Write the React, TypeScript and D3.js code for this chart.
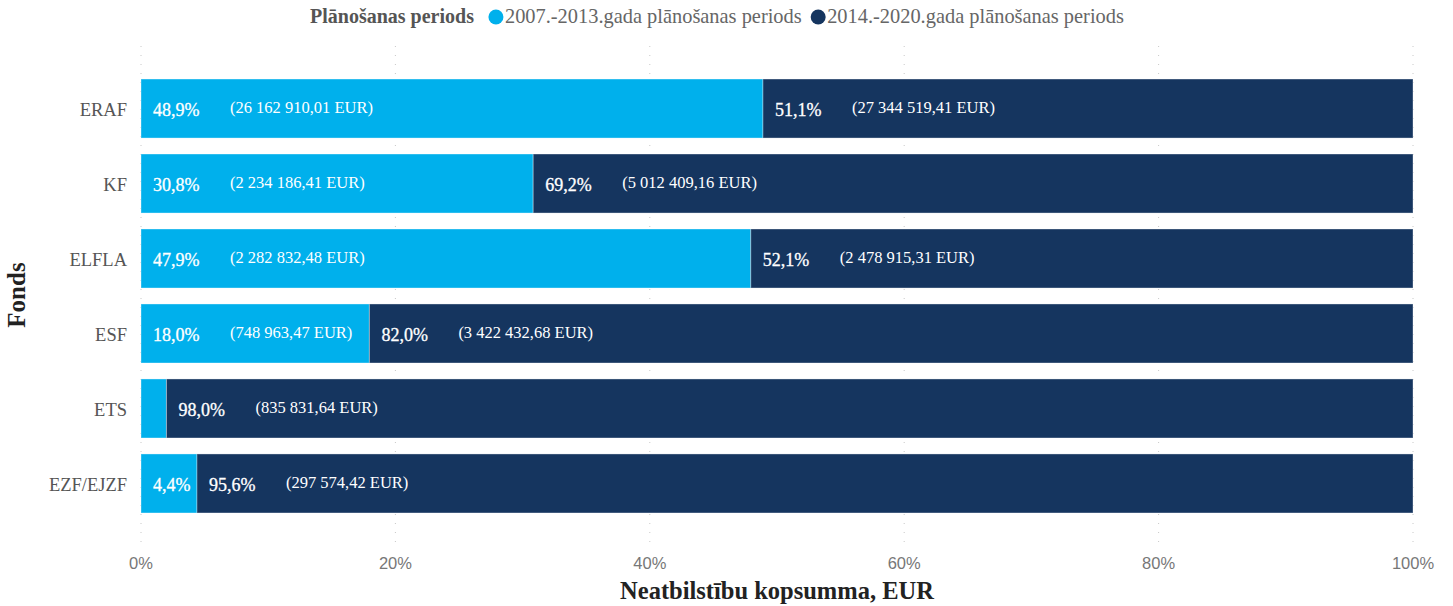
import React, { useEffect, useRef } from 'react';
import * as d3 from 'd3';

// Fondi un summas (EUR) pa plānošanas periodiem
const funds = ['ERAF', 'KF', 'ELFLA', 'ESF', 'ETS', 'EZF/EJZF'];
const period1 = [26162910.01, 2234186.41, 2282832.48, 748963.47, 17058, 13696];
const period2 = [27344519.41, 5012409.16, 2478915.31, 3422432.68, 835831.64, 297574.42];
const showP1Eur = [true, true, true, true, false, false];
const showP1Pct = [true, true, true, true, false, true];
const seriesNames = ['2007.-2013.gada plānošanas periods', '2014.-2020.gada plānošanas periods'];
const xTicks = [0, 0.2, 0.4, 0.6, 0.8, 1];

const COLORS = ['#00B0EC', '#15355F'];
const W = 1453;
const H = 606;

const fmtEur = (v: number) => {
  const [i, d] = v.toFixed(2).split('.');
  return `(${i.replace(/\B(?=(\d{3})+(?!\d))/g, ' ')},${d} EUR)`;
};
const fmtPct = (v: number) => (v * 100).toFixed(1).replace('.', ',') + '%';

export default function App() {
  const ref = useRef<SVGSVGElement>(null);

  useEffect(() => {
    const svg = d3.select(ref.current);
    svg.selectAll('*').remove();
    const margin = { top: 44, right: 40, bottom: 61, left: 141 };
    const innerW = W - margin.left - margin.right;

    const x = d3.scaleLinear().domain([0, 1]).range([margin.left, margin.left + innerW]);
    const y = d3.scaleBand().domain(funds).range([71, 521]).paddingInner(0.213).paddingOuter(0.107);

    const serif = "'Liberation Serif', 'Times New Roman', serif";

    // Grid
    svg.append('g').selectAll('line').data(xTicks).join('line')
      .attr('x1', d => x(d)).attr('x2', d => x(d))
      .attr('y1', margin.top + 2).attr('y2', 546)
      .attr('stroke', '#c8c8c8').attr('stroke-width', 1).attr('stroke-dasharray', '1 8');

    const rows = funds.map((f, i) => {
      const total = period1[i] + period2[i];
      return { f, i, p1: period1[i] / total, p2: period2[i] / total };
    });

    const g = svg.append('g');
    rows.forEach(r => {
      const by = y(r.f)!;
      const bh = y.bandwidth();
      const cy = by + bh / 2;
      const segs = [
        { x0: 0, x1: r.p1, c: COLORS[0], pct: r.p1, eur: period1[r.i], sp: showP1Pct[r.i], se: showP1Eur[r.i] },
        { x0: r.p1, x1: 1, c: COLORS[1], pct: r.p2, eur: period2[r.i], sp: true, se: true },
      ];
      segs.forEach(s => {
        g.append('rect')
          .attr('x', x(s.x0)).attr('y', by)
          .attr('width', x(s.x1) - x(s.x0)).attr('height', bh)
          .attr('fill', s.c).attr('stroke', 'rgba(255,255,255,0.35)').attr('stroke-width', 1);
        if (s.sp) {
          g.append('text').attr('x', x(s.x0) + 12).attr('y', cy + 1).attr('dy', '0.35em')
            .attr('fill', '#fff').attr('font-family', serif).attr('font-size', 18)
            .attr('stroke', '#fff').attr('stroke-width', 0.3)
            .text(fmtPct(s.pct));
        }
        if (s.se) {
          g.append('text').attr('x', x(s.x0) + 89).attr('y', cy - 1).attr('dy', '0.35em')
            .attr('fill', '#fff').attr('font-family', serif).attr('font-size', 16.5)
            .text(fmtEur(s.eur));
        }
      });
      svg.append('text').attr('x', 127).attr('y', cy + 1).attr('dy', '0.35em')
        .attr('text-anchor', 'end').attr('fill', '#555').attr('font-family', serif).attr('font-size', 18.5)
        .text(r.f);
    });

    // x ticks
    svg.append('g').selectAll('text').data(xTicks).join('text')
      .attr('x', d => x(d)).attr('y', 569)
      .attr('text-anchor', 'middle').attr('fill', '#777')
      .attr('font-family', "'Liberation Sans', 'DejaVu Sans', sans-serif").attr('font-size', 16.5)
      .text(d => `${Math.round(d * 100)}%`);

    // Axis titles
    svg.append('text').attr('x', x(0.5)).attr('y', 599).attr('text-anchor', 'middle')
      .attr('fill', '#222').attr('font-family', serif).attr('font-size', 24.5).attr('font-weight', 'bold')
      .text('Neatbilstību kopsumma, EUR');
    svg.append('text').attr('transform', `translate(25,${295}) rotate(-90)`).attr('text-anchor', 'middle')
      .attr('fill', '#222').attr('font-family', serif).attr('font-size', 25).attr('font-weight', 'bold')
      .text('Fonds');

    // Legend
    const lg = svg.append('g').attr('font-family', serif).attr('font-size', 20.4);
    const title = lg.append('text').attr('x', 310).attr('y', 23).attr('fill', '#555').attr('font-weight', 'bold')
      .attr('font-size', 20).text('Plānošanas periods');
    let lx = 310 + (title.node() as SVGTextElement).getComputedTextLength() + 22;
    seriesNames.forEach((n, i) => {
      lg.append('circle').attr('cx', lx).attr('cy', 17).attr('r', 7.5).attr('fill', COLORS[i]);
      const t = lg.append('text').attr('x', lx + 9).attr('y', 23).attr('fill', '#666').text(n);
      const w = (t.node() as SVGTextElement).getComputedTextLength();
      lx += 9 + w + 16.5;
    });
  }, []);

  return (
    <svg ref={ref} width={W} height={H}
      style={{ position: 'absolute', left: 0, top: 0, background: '#fff', display: 'block' }} />
  );
}
